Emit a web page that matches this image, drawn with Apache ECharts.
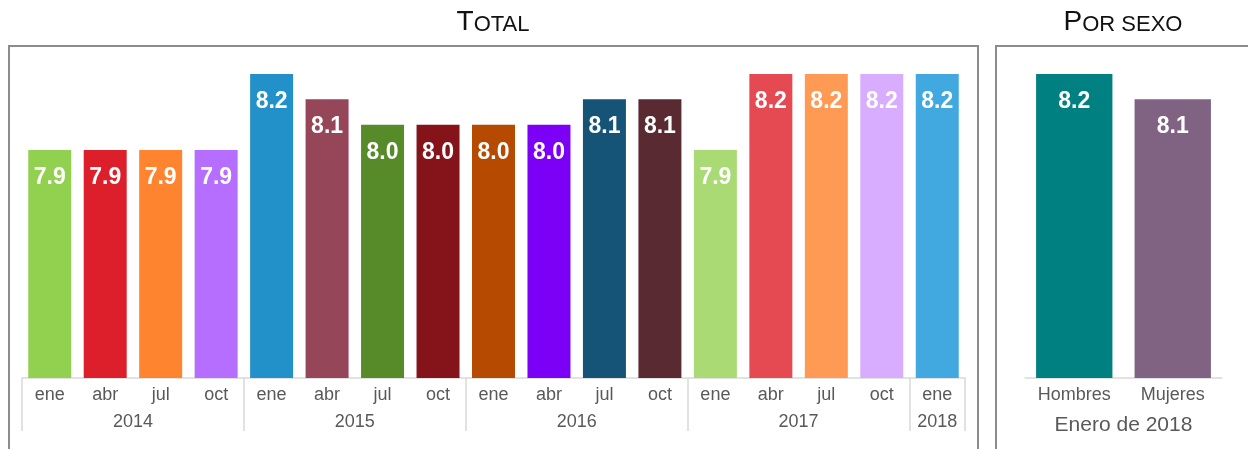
<!DOCTYPE html>
<html>
<head>
<meta charset="utf-8">
<script src="https://cdn.jsdelivr.net/npm/echarts@6/dist/echarts.min.js"></script>
<style>html,body{margin:0;padding:0;background:#fff}#c{width:1248px;height:449px}</style>
</head>
<body>
<div id="c"></div>
<script>
const months = ['ene','abr','jul','oct','ene','abr','jul','oct','ene','abr','jul','oct','ene','abr','jul','oct','ene'];
const years = ['2014','2015','2016','2017','2018'];
const quartersPerYear = [4,4,4,4,1];
const totalValues = [7.9,7.9,7.9,7.9, 8.2,8.1,8.0,8.0, 8.0,8.0,8.1,8.1, 7.9,8.2,8.2,8.2, 8.2];
const sexCategories = ['Hombres','Mujeres'];
const sexValues = [8.2, 8.1];
const sexAxisName = 'Enero de 2018';

const totalColors = ['#92D050','#DC1F2A','#FF8430','#B56EFF','#2391C9','#964659','#578A28','#85141A',
  '#B54A00','#7B00F5','#155477','#5A2A33','#A9DA74','#E54A52','#FF9A55','#D8ADFF','#42A9E0'];
const sexColors = ['#008080','#806283'];

// half-slot year axis
const halfSlots = [];
const tickIdx = new Set([0]);
const labelIdx = {};
let cum = 0;
quartersPerYear.forEach((q, i) => {
  labelIdx[cum * 2 + q] = years[i];
  cum += q;
  tickIdx.add(cum * 2);
});
for (let i = 0; i <= cum * 2; i++) halfSlots.push('s' + i);

const FONT = "'Liberation Sans', Arial, sans-serif";
const chart = echarts.init(document.getElementById('c'), null, {renderer: 'canvas'});
const labelStyle = {show: true, position: 'insideTop', distance: 16, color: '#fff', fontWeight: 'bold', fontSize: 23, fontFamily: FONT,
  formatter: p => p.value.toFixed(1)};
const titleRich = {
  a: {fontSize: 28, lineHeight: 28, fontFamily: FONT, fill: '#111', verticalAlign: 'bottom'},
  b: {fontSize: 22, lineHeight: 22, fontFamily: FONT, fill: '#111', verticalAlign: 'bottom'}
};

chart.setOption({
  animation: false,
  graphic: [
    {type: 'rect', shape: {x: 9, y: 46, width: 969, height: 430}, style: {fill: 'none', stroke: '#8c8c8c', lineWidth: 2}},
    {type: 'rect', shape: {x: 996, y: 46, width: 300, height: 430}, style: {fill: 'none', stroke: '#8c8c8c', lineWidth: 2}},
    {type: 'text', x: 493, y: 36, style: {text: '{a|T}{b|OTAL}', align: 'center', verticalAlign: 'bottom', rich: titleRich}},
    {type: 'text', x: 1123, y: 36, style: {text: '{a|P}{b|OR SEXO}', align: 'center', verticalAlign: 'bottom', rich: titleRich}}
  ],
  grid: [
    {left: 22, right: 283, top: 74, bottom: 71},
    {left: 1025, right: 26, top: 74, bottom: 71}
  ],
  xAxis: [
    {type: 'category', gridIndex: 0, data: months,
      axisLine: {show: true, lineStyle: {color: '#d9d9d9', width: 1.5}}, axisTick: {show: false},
      axisLabel: {color: '#595959', fontSize: 18, fontFamily: FONT, margin: 8, interval: 0}},
    {type: 'category', gridIndex: 0, data: halfSlots, boundaryGap: false, position: 'bottom',
      axisLine: {show: false},
      axisTick: {show: true, length: 53, lineStyle: {color: '#d9d9d9', width: 1.5}, interval: (i) => tickIdx.has(i)},
      axisLabel: {color: '#595959', fontSize: 18, fontFamily: FONT, margin: 35,
        interval: (i) => labelIdx[i] !== undefined, formatter: (v, i) => labelIdx[i] || ''}},
    {type: 'category', gridIndex: 1, data: sexCategories,
      axisLine: {show: true, lineStyle: {color: '#d9d9d9', width: 1.5}}, axisTick: {show: false},
      axisLabel: {color: '#595959', fontSize: 18, fontFamily: FONT, margin: 8, interval: 0},
      name: sexAxisName, nameLocation: 'middle', nameGap: 37,
      nameTextStyle: {color: '#595959', fontSize: 21, fontFamily: FONT}}
  ],
  yAxis: [
    {type: 'value', gridIndex: 0, min: 7, max: 8.2, show: false},
    {type: 'value', gridIndex: 1, min: 7, max: 8.2, show: false}
  ],
  series: [
    {type: 'bar', xAxisIndex: 0, yAxisIndex: 0, barCategoryGap: '22.5%',
      data: totalValues.map((v, i) => ({value: v, itemStyle: {color: totalColors[i]}})), label: labelStyle},
    {type: 'bar', xAxisIndex: 2, yAxisIndex: 1, barCategoryGap: '22.5%',
      data: sexValues.map((v, i) => ({value: v, itemStyle: {color: sexColors[i]}})), label: labelStyle}
  ]
});
</script>
</body>
</html>
